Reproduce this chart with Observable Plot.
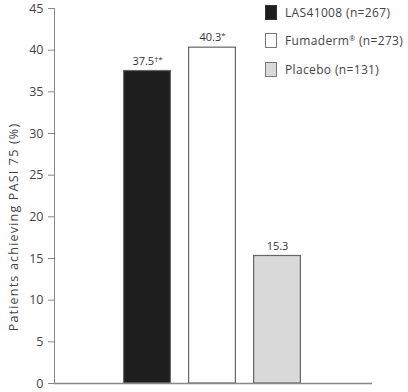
<!DOCTYPE html>
<html><head><meta charset="utf-8">
<script src="https://cdn.jsdelivr.net/npm/d3@7"></script>
<script src="https://cdn.jsdelivr.net/npm/@observablehq/plot@0.6"></script>
<style>
body{margin:0;background:#fff;font-family:"Open Sans",sans-serif;}
#wrap{position:relative;width:408px;height:392px;}
#legend{position:absolute;left:265px;top:-2px;font-size:12px;color:#444;letter-spacing:0.35px;}
.row{display:flex;align-items:center;height:28.5px;}
.sw{width:10px;height:13px;border:1px solid #777;margin-right:8px;box-sizing:content-box;}
.sup{font-size:7px;vertical-align:4px;}
</style></head>
<body><div id="wrap"><div id="legend"></div></div>
<script>
const groups = ["LAS41008 (n=267)", "Fumaderm® (n=273)", "Placebo (n=131)"];
const values = [37.5, 40.3, 15.3];
const valueLabels = ["37.5†*", "40.3*", "15.3"];
const fills = ["#1e1e1e", "#ffffff", "#d9d9d9"];
const yTicks = [0,5,10,15,20,25,30,35,40,45];
const yLabel = "Patients achieving PASI 75 (%)";

const data = groups.map((g,i)=>({group:g, value:values[i], label:valueLabels[i], fill:fills[i]}));

const chart = Plot.plot({
  width: 408, height: 392,
  marginLeft: 54, marginRight: 36, marginTop: 8, marginBottom: 9,
  style: {fontFamily: "'Open Sans', sans-serif", fontSize: "12px", color: "#444"},
  x: {domain: groups, range: [114.8, 309.8], paddingInner: 0.26, paddingOuter: 0.13, axis: null},
  y: {domain: [0, 45], ticks: yTicks},
  marks: [
    Plot.frame({anchor: "left", stroke: "#888"}),
    Plot.axisY({ticks: yTicks, tickSize: 6, tickPadding: 5, label: null, stroke: "#888", fontSize: 12.5}),
    Plot.barY(data, {x: "group", y: "value", fill: "fill", stroke: "#666", strokeWidth: 1.2, insetLeft: 0.6, insetRight: 0.6}),
    Plot.text(data, {x: "group", y: "value", text: "label", dy: -10, fill: "#333", fontSize: 11}),
    Plot.ruleY([0], {stroke: "#888", strokeWidth: 1.3}),
    Plot.text([yLabel], {frameAnchor: "left", textAnchor: "middle", rotate: -90, dx: -41, dy: 31, fontSize: 12.5, fill: "#444"})
  ]
});
chart.querySelectorAll("text").forEach(t => {
  if (t.textContent === yLabel) t.style.letterSpacing = "1.2px";
  const m = /^([\d.]+)([†*]+)$/.exec(t.textContent);
  if (m && t.children.length === 0) {
    t.textContent = m[1];
    const ts = document.createElementNS("http://www.w3.org/2000/svg", "tspan");
    ts.setAttribute("font-size", "8");
    ts.setAttribute("dy", "-3");
    ts.textContent = m[2];
    t.appendChild(ts);
  }
});
document.getElementById("wrap").prepend(chart);
const lg = document.getElementById("legend");
groups.forEach((g,i)=>{
  const r = document.createElement("div"); r.className="row";
  const s = document.createElement("div"); s.className="sw"; s.style.background = fills[i];
  if (i===0) s.style.borderColor = "#333";
  const t = document.createElement("span");
  g.split(/(®)/).forEach(part => {
    if (part === "®") { const sp = document.createElement("span"); sp.className = "sup"; sp.textContent = part; t.append(sp); }
    else if (part) t.append(document.createTextNode(part));
  });
  r.append(s,t); lg.append(r);
});
</script></body></html>
